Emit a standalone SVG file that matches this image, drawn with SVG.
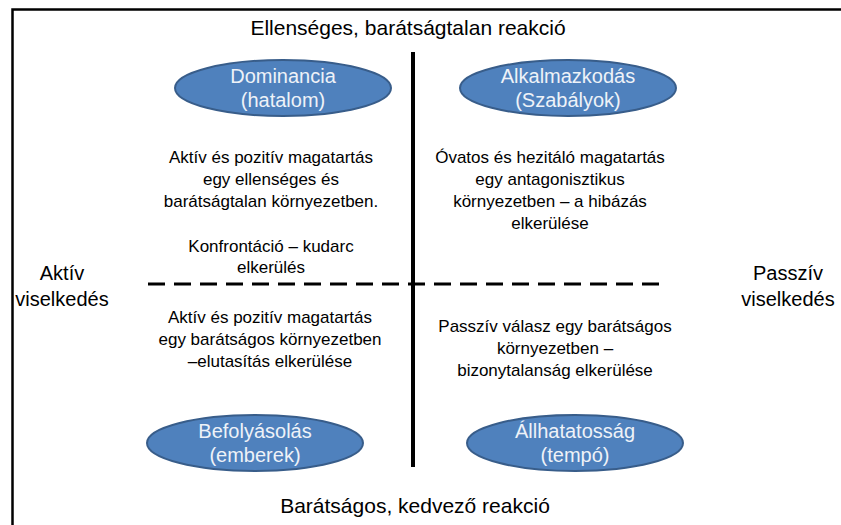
<svg xmlns="http://www.w3.org/2000/svg" width="841" height="525" viewBox="0 0 841 525">
<style>
text{font-family:"Liberation Sans",Arial,sans-serif;fill:#000;text-anchor:middle}
.t{font-size:21px}
.s{font-size:20px}
.q{font-size:17px}
.n{fill:#4F81BD;stroke:#385D8A;stroke-width:2}
.nt{font-size:20px;fill:#EEF2F8}
</style>
<rect width="841" height="525" fill="#fff"/>
<path d="M12.5 525 V9.5 H841" fill="none" stroke="#000" stroke-width="2.5"/>
<g id="connectors">
<line x1="413" y1="52" x2="413" y2="467" stroke="#000" stroke-width="4"/>
<line x1="148" y1="284" x2="668" y2="284" stroke="#000" stroke-width="3" stroke-dasharray="17 9"/>
</g>
<g id="labels">
<text class="t" x="408" y="35">Ellenséges, barátságtalan reakció</text>
<text class="t" x="415" y="513">Barátságos, kedvező reakció</text>
<text class="s" x="62" y="280">Aktív</text>
<text class="s" x="62" y="306">viselkedés</text>
<text class="s" x="788" y="280">Passzív</text>
<text class="s" x="788" y="306">viselkedés</text>
</g>
<g id="dominancia">
<ellipse class="n" cx="283" cy="88" rx="108" ry="28"/>
<text class="nt" x="283" y="83">Dominancia</text>
<text class="nt" x="283" y="107">(hatalom)</text>
</g>
<g id="alkalmazkodas">
<ellipse class="n" cx="568" cy="88" rx="108" ry="28"/>
<text class="nt" x="568" y="83">Alkalmazkodás</text>
<text class="nt" x="568" y="107">(Szabályok)</text>
</g>
<g id="befolyasolas">
<ellipse class="n" cx="255" cy="443" rx="108" ry="28"/>
<text class="nt" x="255" y="438">Befolyásolás</text>
<text class="nt" x="255" y="462">(emberek)</text>
</g>
<g id="allhatatossag">
<ellipse class="n" cx="575" cy="443" rx="108" ry="28"/>
<text class="nt" x="575" y="438">Állhatatosság</text>
<text class="nt" x="575" y="462">(tempó)</text>
</g>
<g id="q1">
<text class="q" x="271" y="163">Aktív és pozitív magatartás</text>
<text class="q" x="271" y="185">egy ellenséges és</text>
<text class="q" x="271" y="207">barátságtalan  környezetben.</text>
<text class="q" x="271" y="252">Konfrontáció – kudarc</text>
<text class="q" x="271" y="273">elkerülés</text>
</g>
<g id="q2">
<text class="q" x="550" y="163">Óvatos és hezitáló magatartás</text>
<text class="q" x="550" y="185">egy antagonisztikus</text>
<text class="q" x="550" y="207">környezetben – a hibázás</text>
<text class="q" x="550" y="229">elkerülése</text>
</g>
<g id="q3">
<text class="q" x="270" y="323">Aktív és pozitív magatartás</text>
<text class="q" x="270" y="345">egy barátságos környezetben</text>
<text class="q" x="270" y="367">–elutasítás elkerülése</text>
</g>
<g id="q4">
<text class="q" x="555" y="332">Passzív válasz egy barátságos</text>
<text class="q" x="555" y="354">környezetben –</text>
<text class="q" x="555" y="376">bizonytalanság elkerülése</text>
</g>
</svg>
